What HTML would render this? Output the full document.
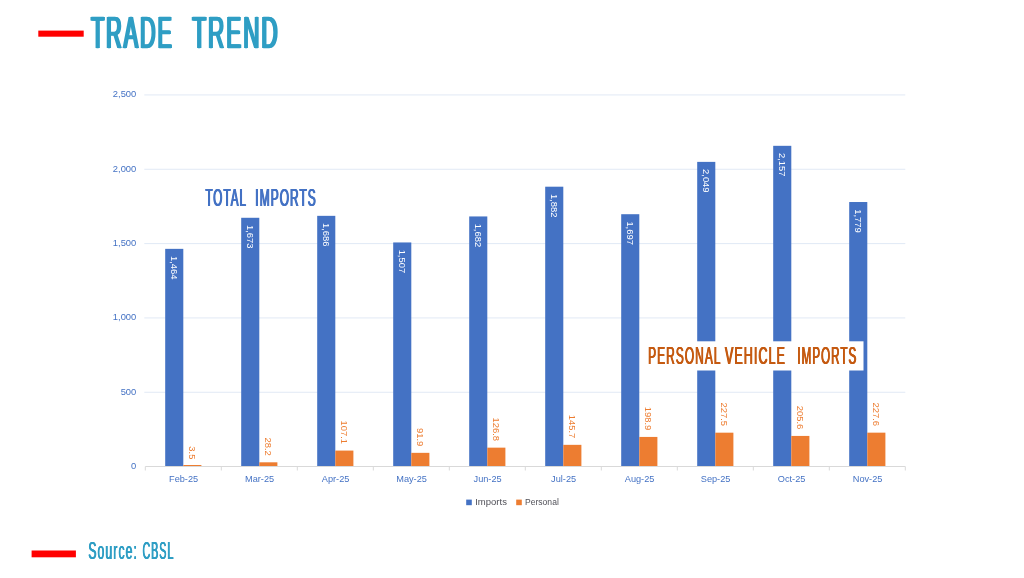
<!DOCTYPE html>
<html lang="en"><head><meta charset="utf-8"><title>Trade Trend</title>
<style>
html,body{margin:0;padding:0;background:#fff;}
body{width:1024px;height:578px;overflow:hidden;position:relative;font-family:"Liberation Sans",sans-serif;}
svg{display:block;position:absolute;left:0;top:0;}
svg text{font-family:"Liberation Sans",sans-serif;}
.ax{font-size:9.4px;fill:#4472C4;}
.dl{font-size:9.4px;}
.mo{font-size:9.2px;fill:#4472C4;}
.lg{font-size:9.3px;fill:#505058;}
.grp{margin:0;padding:0;font-size:0;font-weight:normal;position:static;}
.cw{display:block;position:absolute;white-space:nowrap;line-height:1;transform-origin:0 0;font-weight:normal;margin:0;padding:0;letter-spacing:0.09em;}
#w1{left:0;top:0;transform:translate(91.06px,11.21px) scaleX(0.4800);font-size:44.91px;color:#2F9EC4;text-shadow:2.29px 0 0 #2F9EC4,-2.29px 0 0 #2F9EC4;-webkit-text-stroke:0.50px #2F9EC4;}
#w2{left:0;top:0;transform:translate(192.29px,11.21px) scaleX(0.4997);font-size:44.91px;color:#2F9EC4;text-shadow:2.20px 0 0 #2F9EC4,-2.20px 0 0 #2F9EC4;-webkit-text-stroke:0.50px #2F9EC4;}
#w3{left:0;top:0;transform:translate(205.41px,185.55px) scaleX(0.4779);font-size:24.30px;color:#4472C4;text-shadow:1.00px 0 0 #4472C4,-1.00px 0 0 #4472C4;-webkit-text-stroke:0.15px #4472C4;}
#w4{left:0;top:0;transform:translate(255.26px,185.55px) scaleX(0.4907);font-size:24.30px;color:#4472C4;text-shadow:0.98px 0 0 #4472C4,-0.98px 0 0 #4472C4;-webkit-text-stroke:0.15px #4472C4;}
#w5{left:0;top:0;transform:translate(648.13px,344.35px) scaleX(0.4961);font-size:24.00px;color:#C55A11;text-shadow:0.85px 0 0 #C55A11,-0.85px 0 0 #C55A11;-webkit-text-stroke:0.15px #C55A11;}
#w6{left:0;top:0;transform:translate(724.98px,344.35px) scaleX(0.5182);font-size:24.00px;color:#C55A11;text-shadow:0.81px 0 0 #C55A11,-0.81px 0 0 #C55A11;-webkit-text-stroke:0.15px #C55A11;}
#w7{left:0;top:0;transform:translate(797.32px,344.35px) scaleX(0.4837);font-size:24.00px;color:#C55A11;text-shadow:0.87px 0 0 #C55A11,-0.87px 0 0 #C55A11;-webkit-text-stroke:0.15px #C55A11;}
#w8{left:0;top:0;transform:translate(88.33px,539.19px) scaleX(0.5073);font-size:24.00px;color:#2F9EC4;text-shadow:0.59px 0 0 #2F9EC4,-0.59px 0 0 #2F9EC4;-webkit-text-stroke:0.15px #2F9EC4;}
#w9{left:0;top:0;transform:translate(142.45px,539.20px) scaleX(0.4471);font-size:24.00px;color:#2F9EC4;text-shadow:0.67px 0 0 #2F9EC4,-0.67px 0 0 #2F9EC4;-webkit-text-stroke:0.15px #2F9EC4;}
</style></head><body>
<svg width="1024" height="578" viewBox="0 0 1024 578">
<rect x="0" y="0" width="1024" height="578" fill="#ffffff"/>
<rect x="38.3" y="30.6" width="45.4" height="6.1" fill="#FF0000"/>
<line x1="144.3" y1="392.27" x2="905.3" y2="392.27" stroke="#E1E9F5" stroke-width="1"/>
<line x1="144.3" y1="317.93" x2="905.3" y2="317.93" stroke="#E1E9F5" stroke-width="1"/>
<line x1="144.3" y1="243.60" x2="905.3" y2="243.60" stroke="#E1E9F5" stroke-width="1"/>
<line x1="144.3" y1="169.26" x2="905.3" y2="169.26" stroke="#E1E9F5" stroke-width="1"/>
<line x1="144.3" y1="94.93" x2="905.3" y2="94.93" stroke="#E1E9F5" stroke-width="1"/>
<text class="ax" x="136.3" y="468.8" text-anchor="end">0</text>
<text class="ax" x="136.3" y="394.5" text-anchor="end">500</text>
<text class="ax" x="136.3" y="320.1" text-anchor="end">1,000</text>
<text class="ax" x="136.3" y="245.8" text-anchor="end">1,500</text>
<text class="ax" x="136.3" y="171.5" text-anchor="end">2,000</text>
<text class="ax" x="136.3" y="97.1" text-anchor="end">2,500</text>
<rect x="165.20" y="248.85" width="18.10" height="217.25" fill="#4472C4"/>
<rect x="183.30" y="465.00" width="18.10" height="1.00" fill="#ED7D31"/>
<rect x="241.20" y="217.78" width="18.10" height="248.32" fill="#4472C4"/>
<rect x="259.30" y="462.31" width="18.10" height="3.79" fill="#ED7D31"/>
<rect x="317.20" y="215.84" width="18.10" height="250.26" fill="#4472C4"/>
<rect x="335.30" y="450.58" width="18.10" height="15.52" fill="#ED7D31"/>
<rect x="393.20" y="242.45" width="18.10" height="223.65" fill="#4472C4"/>
<rect x="411.30" y="452.84" width="18.10" height="13.26" fill="#ED7D31"/>
<rect x="469.20" y="216.44" width="18.10" height="249.66" fill="#4472C4"/>
<rect x="487.30" y="447.65" width="18.10" height="18.45" fill="#ED7D31"/>
<rect x="545.20" y="186.70" width="18.10" height="279.40" fill="#4472C4"/>
<rect x="563.30" y="444.84" width="18.10" height="21.26" fill="#ED7D31"/>
<rect x="621.20" y="214.21" width="18.10" height="251.89" fill="#4472C4"/>
<rect x="639.30" y="436.93" width="18.10" height="29.17" fill="#ED7D31"/>
<rect x="697.20" y="161.88" width="18.10" height="304.22" fill="#4472C4"/>
<rect x="715.30" y="432.68" width="18.10" height="33.42" fill="#ED7D31"/>
<rect x="773.20" y="145.82" width="18.10" height="320.28" fill="#4472C4"/>
<rect x="791.30" y="435.93" width="18.10" height="30.17" fill="#ED7D31"/>
<rect x="849.20" y="202.02" width="18.10" height="264.08" fill="#4472C4"/>
<rect x="867.30" y="432.66" width="18.10" height="33.44" fill="#ED7D31"/>
<line x1="145.3" y1="466.50" x2="905.3" y2="466.50" stroke="#D9D9D9" stroke-width="1"/>
<line x1="145.30" y1="466.50" x2="145.30" y2="470.50" stroke="#D9D9D9" stroke-width="1"/>
<line x1="221.30" y1="466.50" x2="221.30" y2="470.50" stroke="#D9D9D9" stroke-width="1"/>
<line x1="297.30" y1="466.50" x2="297.30" y2="470.50" stroke="#D9D9D9" stroke-width="1"/>
<line x1="373.30" y1="466.50" x2="373.30" y2="470.50" stroke="#D9D9D9" stroke-width="1"/>
<line x1="449.30" y1="466.50" x2="449.30" y2="470.50" stroke="#D9D9D9" stroke-width="1"/>
<line x1="525.30" y1="466.50" x2="525.30" y2="470.50" stroke="#D9D9D9" stroke-width="1"/>
<line x1="601.30" y1="466.50" x2="601.30" y2="470.50" stroke="#D9D9D9" stroke-width="1"/>
<line x1="677.30" y1="466.50" x2="677.30" y2="470.50" stroke="#D9D9D9" stroke-width="1"/>
<line x1="753.30" y1="466.50" x2="753.30" y2="470.50" stroke="#D9D9D9" stroke-width="1"/>
<line x1="829.30" y1="466.50" x2="829.30" y2="470.50" stroke="#D9D9D9" stroke-width="1"/>
<line x1="905.30" y1="466.50" x2="905.30" y2="470.50" stroke="#D9D9D9" stroke-width="1"/>
<text class="dl" fill="#ffffff" transform="translate(170.95,256.05) rotate(90)" x="0" y="0">1,464</text>
<text class="dl" fill="#ED7D31" transform="translate(189.05,459.38) rotate(90)" x="0" y="0" text-anchor="end">3.5</text>
<text class="dl" fill="#ffffff" transform="translate(246.95,224.98) rotate(90)" x="0" y="0">1,673</text>
<text class="dl" fill="#ED7D31" transform="translate(265.05,455.71) rotate(90)" x="0" y="0" text-anchor="end">28.2</text>
<text class="dl" fill="#ffffff" transform="translate(322.95,223.04) rotate(90)" x="0" y="0">1,686</text>
<text class="dl" fill="#ED7D31" transform="translate(341.05,443.98) rotate(90)" x="0" y="0" text-anchor="end">107.1</text>
<text class="dl" fill="#ffffff" transform="translate(398.95,249.65) rotate(90)" x="0" y="0">1,507</text>
<text class="dl" fill="#ED7D31" transform="translate(417.05,446.24) rotate(90)" x="0" y="0" text-anchor="end">91.9</text>
<text class="dl" fill="#ffffff" transform="translate(474.95,223.64) rotate(90)" x="0" y="0">1,682</text>
<text class="dl" fill="#ED7D31" transform="translate(493.05,441.05) rotate(90)" x="0" y="0" text-anchor="end">126.8</text>
<text class="dl" fill="#ffffff" transform="translate(550.95,193.90) rotate(90)" x="0" y="0">1,882</text>
<text class="dl" fill="#ED7D31" transform="translate(569.05,438.24) rotate(90)" x="0" y="0" text-anchor="end">145.7</text>
<text class="dl" fill="#ffffff" transform="translate(626.95,221.41) rotate(90)" x="0" y="0">1,697</text>
<text class="dl" fill="#ED7D31" transform="translate(645.05,430.33) rotate(90)" x="0" y="0" text-anchor="end">198.9</text>
<text class="dl" fill="#ffffff" transform="translate(702.95,169.08) rotate(90)" x="0" y="0">2,049</text>
<text class="dl" fill="#ED7D31" transform="translate(721.05,426.08) rotate(90)" x="0" y="0" text-anchor="end">227.5</text>
<text class="dl" fill="#ffffff" transform="translate(778.95,153.02) rotate(90)" x="0" y="0">2,157</text>
<text class="dl" fill="#ED7D31" transform="translate(797.05,429.33) rotate(90)" x="0" y="0" text-anchor="end">205.6</text>
<text class="dl" fill="#ffffff" transform="translate(854.95,209.22) rotate(90)" x="0" y="0">1,779</text>
<text class="dl" fill="#ED7D31" transform="translate(873.05,426.06) rotate(90)" x="0" y="0" text-anchor="end">227.6</text>
<text class="mo" x="183.6" y="482.1" text-anchor="middle">Feb-25</text>
<text class="mo" x="259.6" y="482.1" text-anchor="middle">Mar-25</text>
<text class="mo" x="335.6" y="482.1" text-anchor="middle">Apr-25</text>
<text class="mo" x="411.6" y="482.1" text-anchor="middle">May-25</text>
<text class="mo" x="487.6" y="482.1" text-anchor="middle">Jun-25</text>
<text class="mo" x="563.6" y="482.1" text-anchor="middle">Jul-25</text>
<text class="mo" x="639.6" y="482.1" text-anchor="middle">Aug-25</text>
<text class="mo" x="715.6" y="482.1" text-anchor="middle">Sep-25</text>
<text class="mo" x="791.6" y="482.1" text-anchor="middle">Oct-25</text>
<text class="mo" x="867.6" y="482.1" text-anchor="middle">Nov-25</text>
<rect x="466.2" y="499.6" width="5.6" height="5.6" fill="#4472C4"/>
<text class="lg" x="475.2" y="505.3" textLength="31.7" lengthAdjust="spacingAndGlyphs">Imports</text>
<rect x="516.2" y="499.6" width="5.6" height="5.6" fill="#ED7D31"/>
<text class="lg" x="525" y="505.3" textLength="33.8" lengthAdjust="spacingAndGlyphs">Personal</text>
<rect x="644" y="341.3" width="219.5" height="29.2" fill="#ffffff"/>
<rect x="31.6" y="550.5" width="44.3" height="6.8" fill="#FF0000"/>
</svg>
<h1 class="grp"><span class="cw" id="w1">TRADE</span> <span class="cw" id="w2">TREND</span></h1>
<div class="grp"><span class="cw" id="w3">TOTAL</span> <span class="cw" id="w4">IMPORTS</span></div>
<div class="grp"><span class="cw" id="w5">PERSONAL</span> <span class="cw" id="w6">VEHICLE</span> <span class="cw" id="w7">IMPORTS</span></div>
<div class="grp"><span class="cw" id="w8">Source:</span> <span class="cw" id="w9">CBSL</span></div>
</body></html>
